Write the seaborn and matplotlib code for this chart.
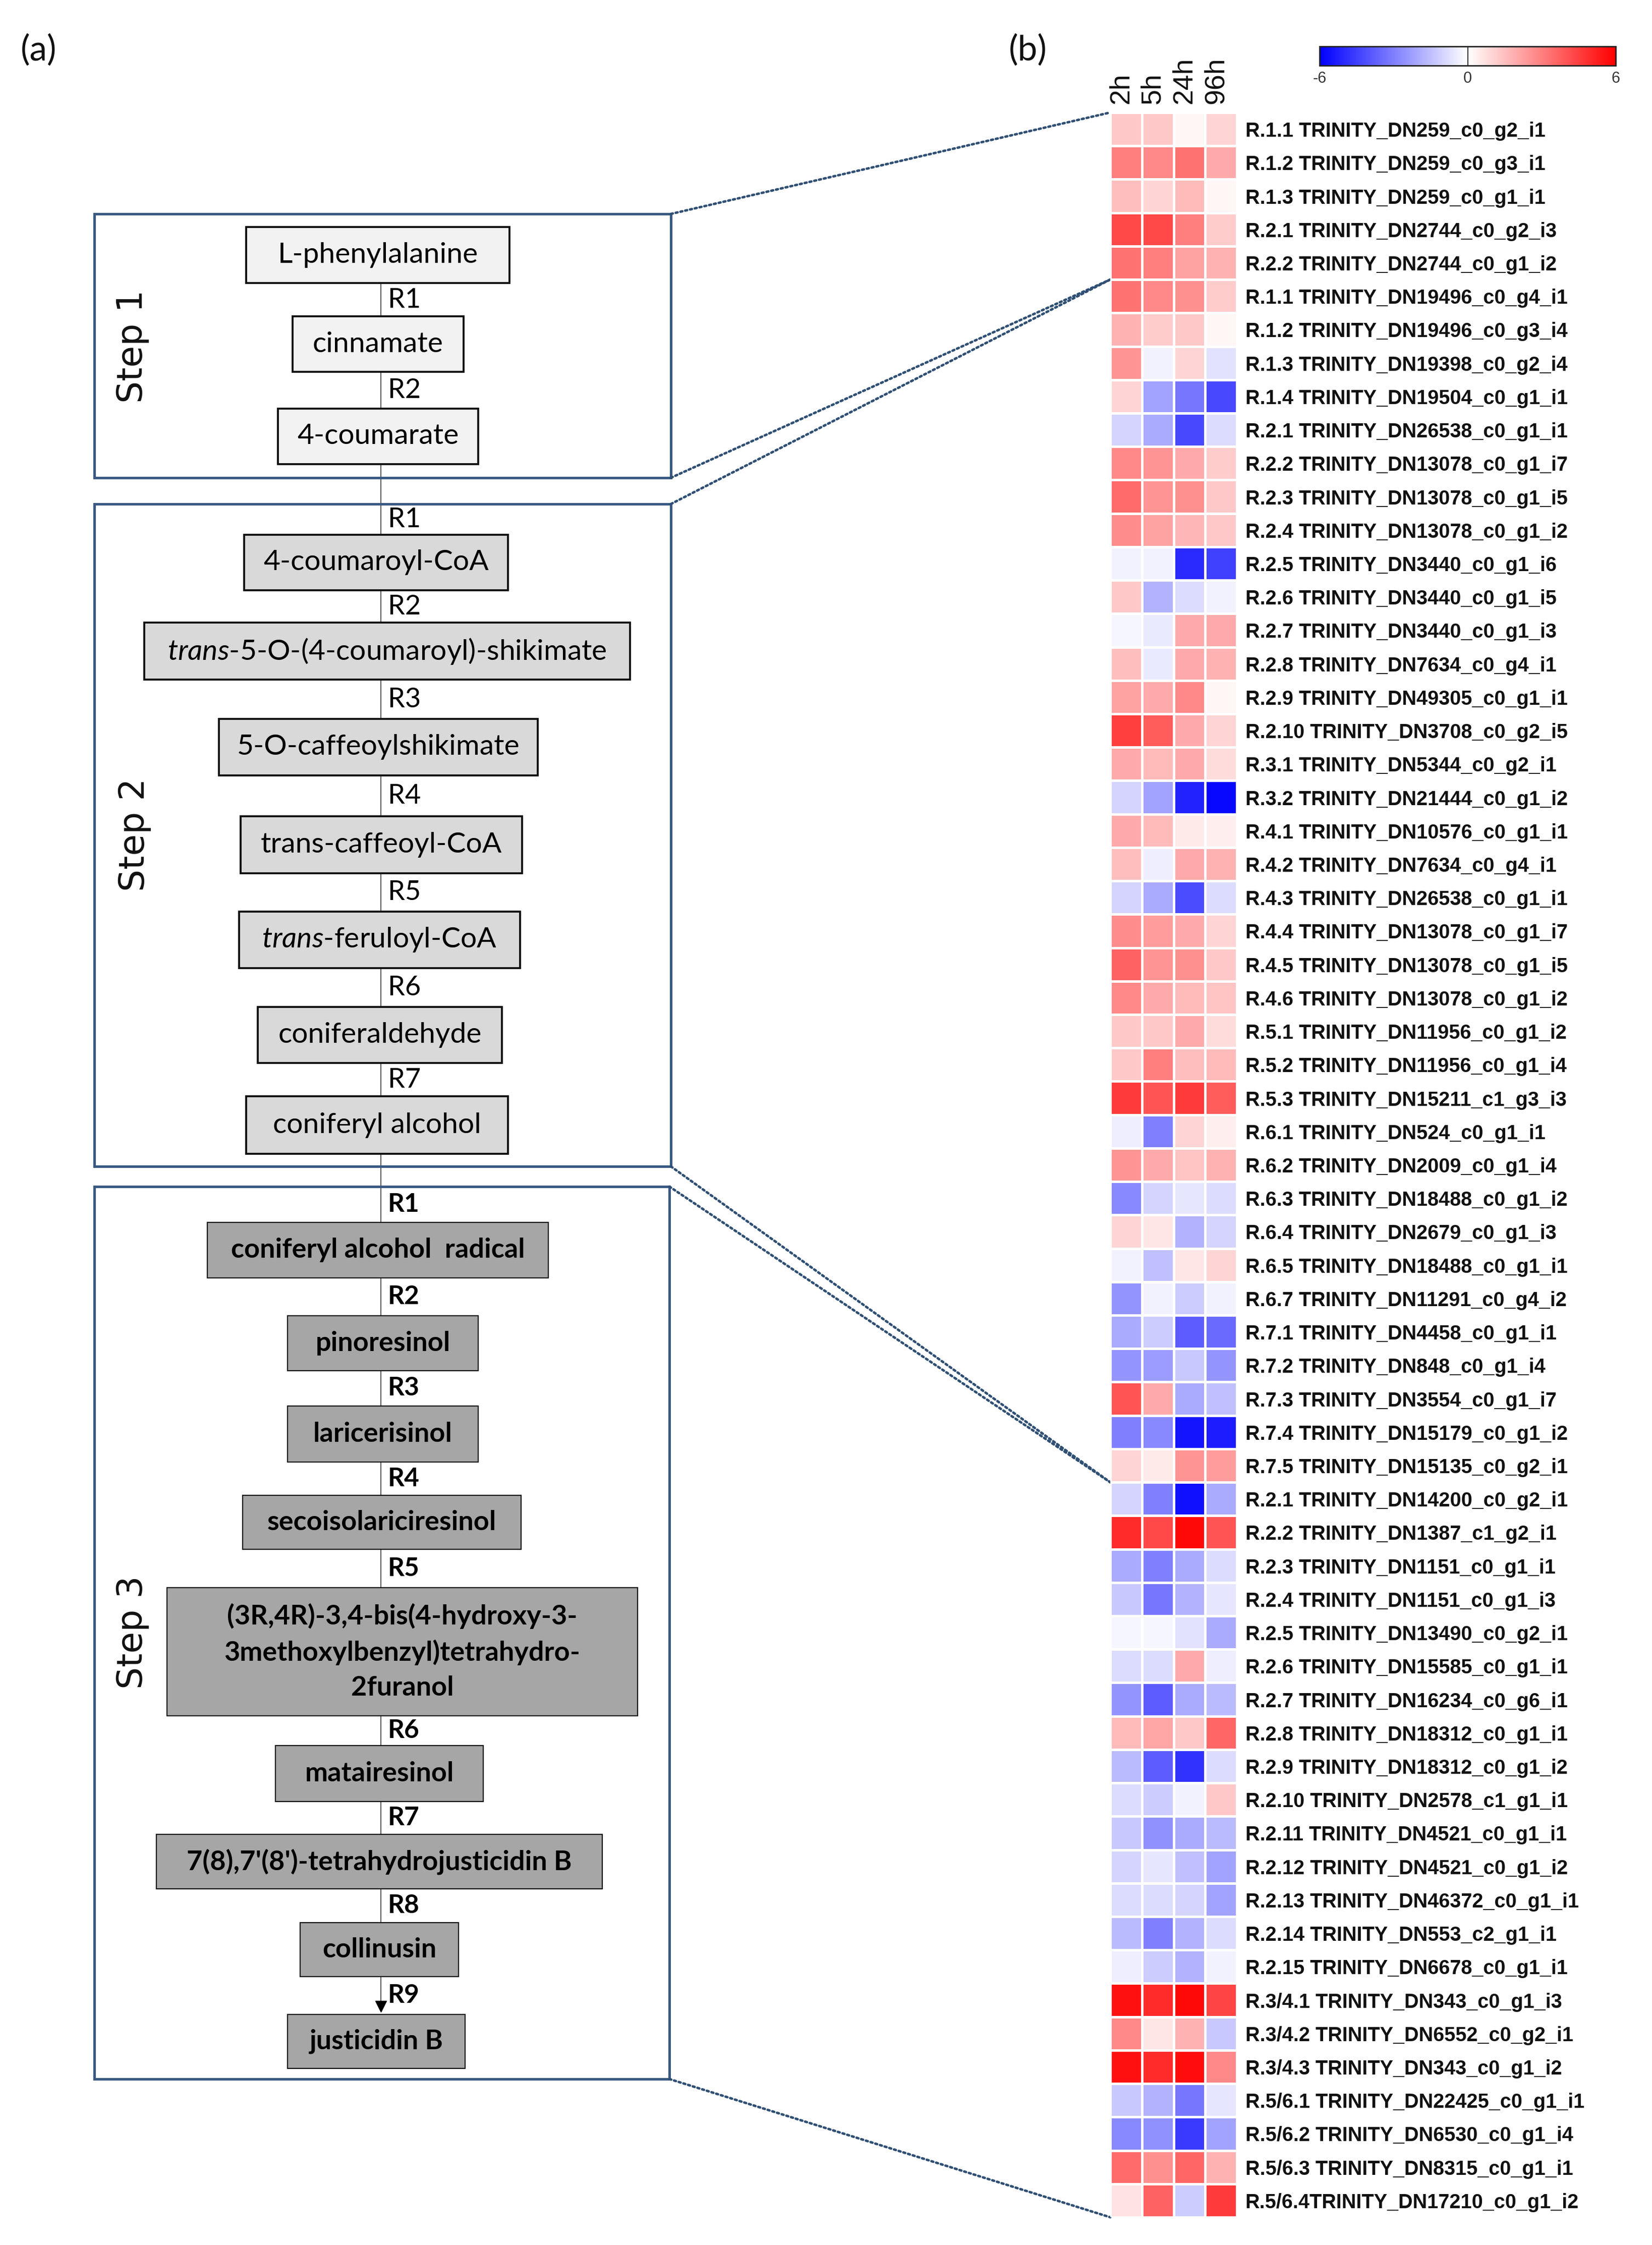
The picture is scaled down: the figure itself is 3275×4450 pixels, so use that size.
import numpy as np
import pandas as pd
import matplotlib
matplotlib.use("Agg")
import matplotlib.pyplot as plt
import seaborn as sns
from matplotlib.patches import Rectangle, ConnectionPatch

# ---------------- data ----------------
time_points = ["2h", "5h", "24h", "96h"]

row_labels = [
    "R.1.1 TRINITY_DN259_c0_g2_i1", "R.1.2 TRINITY_DN259_c0_g3_i1", "R.1.3 TRINITY_DN259_c0_g1_i1",
    "R.2.1 TRINITY_DN2744_c0_g2_i3", "R.2.2 TRINITY_DN2744_c0_g1_i2",
    "R.1.1 TRINITY_DN19496_c0_g4_i1", "R.1.2 TRINITY_DN19496_c0_g3_i4", "R.1.3 TRINITY_DN19398_c0_g2_i4",
    "R.1.4 TRINITY_DN19504_c0_g1_i1", "R.2.1 TRINITY_DN26538_c0_g1_i1", "R.2.2 TRINITY_DN13078_c0_g1_i7",
    "R.2.3 TRINITY_DN13078_c0_g1_i5", "R.2.4 TRINITY_DN13078_c0_g1_i2", "R.2.5 TRINITY_DN3440_c0_g1_i6",
    "R.2.6 TRINITY_DN3440_c0_g1_i5", "R.2.7 TRINITY_DN3440_c0_g1_i3", "R.2.8 TRINITY_DN7634_c0_g4_i1",
    "R.2.9 TRINITY_DN49305_c0_g1_i1", "R.2.10 TRINITY_DN3708_c0_g2_i5", "R.3.1 TRINITY_DN5344_c0_g2_i1",
    "R.3.2 TRINITY_DN21444_c0_g1_i2", "R.4.1 TRINITY_DN10576_c0_g1_i1", "R.4.2 TRINITY_DN7634_c0_g4_i1",
    "R.4.3 TRINITY_DN26538_c0_g1_i1", "R.4.4 TRINITY_DN13078_c0_g1_i7", "R.4.5 TRINITY_DN13078_c0_g1_i5",
    "R.4.6 TRINITY_DN13078_c0_g1_i2", "R.5.1 TRINITY_DN11956_c0_g1_i2", "R.5.2 TRINITY_DN11956_c0_g1_i4",
    "R.5.3 TRINITY_DN15211_c1_g3_i3", "R.6.1 TRINITY_DN524_c0_g1_i1", "R.6.2 TRINITY_DN2009_c0_g1_i4",
    "R.6.3 TRINITY_DN18488_c0_g1_i2", "R.6.4 TRINITY_DN2679_c0_g1_i3", "R.6.5 TRINITY_DN18488_c0_g1_i1",
    "R.6.7 TRINITY_DN11291_c0_g4_i2", "R.7.1 TRINITY_DN4458_c0_g1_i1", "R.7.2 TRINITY_DN848_c0_g1_i4",
    "R.7.3 TRINITY_DN3554_c0_g1_i7", "R.7.4 TRINITY_DN15179_c0_g1_i2", "R.7.5 TRINITY_DN15135_c0_g2_i1",
    "R.2.1 TRINITY_DN14200_c0_g2_i1", "R.2.2 TRINITY_DN1387_c1_g2_i1", "R.2.3 TRINITY_DN1151_c0_g1_i1",
    "R.2.4 TRINITY_DN1151_c0_g1_i3", "R.2.5 TRINITY_DN13490_c0_g2_i1", "R.2.6 TRINITY_DN15585_c0_g1_i1",
    "R.2.7 TRINITY_DN16234_c0_g6_i1", "R.2.8 TRINITY_DN18312_c0_g1_i1", "R.2.9 TRINITY_DN18312_c0_g1_i2",
    "R.2.10 TRINITY_DN2578_c1_g1_i1", "R.2.11 TRINITY_DN4521_c0_g1_i1", "R.2.12 TRINITY_DN4521_c0_g1_i2",
    "R.2.13 TRINITY_DN46372_c0_g1_i1", "R.2.14 TRINITY_DN553_c2_g1_i1", "R.2.15 TRINITY_DN6678_c0_g1_i1",
    "R.3/4.1 TRINITY_DN343_c0_g1_i3", "R.3/4.2 TRINITY_DN6552_c0_g2_i1", "R.3/4.3 TRINITY_DN343_c0_g1_i2",
    "R.5/6.1 TRINITY_DN22425_c0_g1_i1", "R.5/6.2 TRINITY_DN6530_c0_g1_i4", "R.5/6.3 TRINITY_DN8315_c0_g1_i1",
    "R.5/6.4TRINITY_DN17210_c0_g1_i2",
]

v_2h = [1.3, 3.0, 1.5, 4.3, 3.3, 3.3, 1.8, 2.5, 1.0, -1.0, 2.8, 3.5, 2.7, -0.3, 1.3, -0.2, 1.5, 2.2, 4.5, 2.0,
        -1.0, 2.0, 1.5, -1.0, 2.7, 3.7, 2.8, 1.3, 1.3, 4.6, -0.4, 2.5, -2.8, 1.0, -0.3, -2.5, -2.0, -2.5, 4.0, -3.0,
        1.0, -1.0, 5.0, -2.0, -1.3, -0.2, -0.8, -2.5, 1.6, -1.6, -0.8, -1.3, -1.0, -0.8, -1.6, -0.4, 5.6, 2.8, 5.6,
        -1.3, -2.8, 3.5, 0.7]
v_5h = [1.3, 2.8, 1.0, 4.3, 3.0, 2.8, 1.2, -0.3, -2.2, -2.0, 2.5, 2.5, 2.2, -0.3, -1.8, -0.5, -0.5, 2.0, 3.8, 1.6,
        -2.2, 1.6, -0.4, -2.0, 2.3, 2.5, 2.0, 1.3, 3.0, 4.0, -3.0, 2.0, -1.0, 0.6, -1.5, -0.3, -1.2, -2.3, 2.0, -2.8,
        0.5, -3.0, 4.3, -3.0, -3.2, -0.2, -0.8, -3.8, 2.1, -3.8, -1.2, -2.6, -0.6, -0.8, -3.0, -1.2, 5.0, 0.6, 5.0,
        -1.8, -2.6, 2.6, 3.7]
v_24h = [0.2, 3.3, 1.6, 3.0, 2.2, 2.6, 1.3, 1.0, -3.2, -4.3, 2.0, 2.6, 1.7, -5.0, -0.8, 2.0, 2.0, 2.8, 2.0, 2.0,
         -5.2, 0.5, 2.0, -4.2, 2.0, 2.6, 1.6, 2.0, 1.5, 4.6, 1.0, 1.4, -0.6, -1.8, 0.6, -1.2, -3.8, -1.3, -2.0, -5.5,
         2.5, -5.6, 5.8, -2.0, -1.8, -0.7, 2.0, -2.0, 1.3, -4.8, -0.3, -2.0, -1.5, -1.0, -1.8, -1.8, 5.8, 1.8, 5.7,
         -3.2, -4.6, 3.6, -1.2]
v_96h = [1.0, 2.0, 0.2, 1.2, 1.8, 1.2, 0.2, -0.7, -4.3, -0.8, 1.2, 1.3, 1.3, -4.5, -0.3, 2.0, 1.8, 0.2, 1.0, 0.8,
         -5.8, 0.4, 1.8, -0.8, 1.0, 1.3, 1.4, 0.8, 1.6, 3.8, 0.4, 1.8, -0.8, -1.0, 1.0, -0.3, -3.5, -2.5, -1.5, -5.3,
         2.3, -2.0, 4.0, -0.8, -0.6, -2.0, -0.4, -1.6, 3.6, -0.8, 1.3, -1.6, -2.2, -2.2, -0.8, -0.3, 4.4, -1.3, 2.8,
         -0.6, -2.2, 1.8, 4.6]

cbar_ticks = [-6, 0, 6]

# pathway panel content
step_names = ["Step 1", "Step 2", "Step 3"]
step1_compounds = ["L-phenylalanine", "cinnamate", "4-coumarate"]
step2_compounds = ["4-coumaroyl-CoA", r"$\mathit{trans}$-5-O-(4-coumaroyl)-shikimate", "5-O-caffeoylshikimate",
                   "trans-caffeoyl-CoA", r"$\mathit{trans}$-feruloyl-CoA", "coniferaldehyde", "coniferyl alcohol"]
step3_compounds = ["coniferyl alcohol  radical", "pinoresinol", "laricerisinol", "secoisolariciresinol",
                   "(3R,4R)-3,4-bis(4-hydroxy-3-\n3methoxylbenzyl)tetrahydro-\n2furanol", "matairesinol",
                   "7(8),7'(8')-tetrahydrojusticidin B", "collinusin", "justicidin B"]

# ---------------- layout (pixel coordinates of the 3275x4450 canvas) ----------------
W, H = 3275, 4450
step_frames = [(187, 1330, 424, 947), (187, 1330, 999, 2312), (187, 1327, 2352, 4121)]
step_label_pos = [(263, 687), (267, 1655), (263, 3236)]
step1_boxes = [(488, 1010, 450, 561), (580, 919, 627, 737), (551, 948, 810, 920)]
step2_boxes = [(484, 1007, 1060, 1170), (286, 1249, 1234, 1347), (434, 1066, 1425, 1537),
               (477, 1035, 1618, 1731), (474, 1031, 1807, 1919), (511, 995, 1996, 2107),
               (488, 1007, 2173, 2287)]
step3_boxes = [(411, 1087, 2423, 2533), (570, 948, 2608, 2717), (570, 948, 2787, 2898),
               (481, 1033, 2964, 3071), (331, 1264, 3147, 3401), (546, 958, 3460, 3571),
               (310, 1194, 3636, 3744), (595, 909, 3811, 3918), (570, 922, 3993, 4100)]
axis_x = 755
frame_color = "#3A5A82"
link_color = "#2F4F73"
# heatmap row boundaries linked to each step frame (top, bottom)
step_rows = [(0, 5), (5, 41), (41, 63)]

# ---------------- figure ----------------
sns.set_theme(style="white")
plt.rcParams["font.family"] = ["Liberation Sans", "DejaVu Sans"]
plt.rcParams["mathtext.fontset"] = "custom"
plt.rcParams["mathtext.it"] = "Lato:italic"
plt.rcParams["mathtext.rm"] = "Lato"

fig = plt.figure(figsize=(W / 100, H / 100), dpi=100)
fig.patch.set_facecolor("white")

# left overlay axes in pixel coordinates
axL = fig.add_axes([0, 0, 1, 1], zorder=0)
axL.set_xlim(0, W)
axL.set_ylim(H, 0)
axL.axis("off")

# heatmap
df = pd.DataFrame({"2h": v_2h, "5h": v_5h, "24h": v_24h, "96h": v_96h}, index=row_labels)[time_points]
hm_left, hm_right, hm_top, hm_bot = 2201, 2452, 223, 4395
axH = fig.add_axes([hm_left / W, 1 - hm_bot / H, (hm_right - hm_left) / W, (hm_bot - hm_top) / H], zorder=2)
cb_left, cb_right, cb_top, cb_bot = 2616, 3203, 92, 130
cax = fig.add_axes([cb_left / W, 1 - cb_bot / H, (cb_right - cb_left) / W, (cb_bot - cb_top) / H], zorder=2)

sns.heatmap(df, ax=axH, cmap="bwr", vmin=-6, vmax=6, linewidths=2.2, linecolor="white",
            cbar_ax=cax, cbar_kws={"orientation": "horizontal", "ticks": cbar_ticks})
axH.yaxis.tick_right()
axH.set_yticks(np.arange(len(row_labels)) + 0.5)
axH.set_yticklabels(row_labels, rotation=0, fontsize=28.5, fontweight="bold", family="Liberation Sans",
                    color="#111111")
axH.xaxis.tick_top()
axH.set_xticks(np.arange(len(time_points)) + 0.35)
axH.set_xticklabels(time_points, rotation=90, fontsize=40, family="Liberation Sans", color="#111111")
axH.tick_params(axis="y", length=0, pad=12)
axH.tick_params(axis="x", length=0, pad=12)
axH.set_xlabel("")
axH.set_ylabel("")

cax.tick_params(axis="x", length=0, pad=8, labelsize=22, colors="#333333")
cax.set_xticklabels(["-6", "0", "6"])
cax.axvline(0, color="#333333", lw=1.5)
cb = axH.collections[0].colorbar
cb.outline.set_edgecolor("#222222")
cb.outline.set_linewidth(2.0)

# panel letters
axL.text(77, 99, "(a)", fontsize=50, family="Lato", ha="center", va="center", color="#111111")
axL.text(2038, 99, "(b)", fontsize=50, family="Lato", ha="center", va="center", color="#111111")

# central pathway line
axL.plot([axis_x, axis_x], [step1_boxes[0][3], step3_boxes[-1][2] - 14], color="#444444", lw=1.3, zorder=1)
axL.plot([axis_x], [step3_boxes[-1][2] - 16], marker="v", markersize=16, color="black", zorder=3)

# step frames
for (x0, x1, y0, y1), name, (lx, ly) in zip(step_frames, step_names, step_label_pos):
    axL.add_patch(Rectangle((x0, y0), x1 - x0, y1 - y0, fill=False, edgecolor=frame_color, lw=3.6, zorder=2))
    axL.text(lx, ly, name, rotation=90, fontsize=50, family="DejaVu Sans", ha="center", va="center",
             color="#111111")


def draw_step(boxes, names, frame_top, face, elw, fsize, weight, fam, spacing=1.2):
    prev = frame_top
    for i, ((x0, x1, y0, y1), nm) in enumerate(zip(boxes, names)):
        axL.add_patch(Rectangle((x0, y0), x1 - x0, y1 - y0, facecolor=face, edgecolor="#111111", lw=elw, zorder=4))
        axL.text((x0 + x1) / 2, (y0 + y1) / 2, nm, ha="center", va="center", fontsize=fsize, fontweight=weight,
                 family=fam, zorder=5, color="#000000", linespacing=spacing)
        if prev is not None:
            axL.text(axis_x + 14, (prev + y0) / 2, "R%d" % i if frame_top is None else "R%d" % (i + 1),
                     ha="left", va="center", fontsize=fsize * 0.95, fontweight=weight, family=fam, zorder=5,
                     color="#000000")
        prev = y1


draw_step(step1_boxes, step1_compounds, None, "#F2F2F2", 2.8, 41, "normal", "Lato")
draw_step(step2_boxes, step2_compounds, step_frames[1][2], "#D9D9D9", 2.8, 41, "normal", "Lato")
draw_step(step3_boxes, step3_compounds, step_frames[2][2], "#A6A6A6", 1.6, 39, "bold", "Lato", spacing=1.5)

# dotted links from step frames to heatmap rows
for (x0, x1, y0, y1), (r0, r1) in zip(step_frames, step_rows):
    for yy, rr in ((y0, r0), (y1, r1)):
        con = ConnectionPatch(xyA=(x1, yy), coordsA=axL.transData, xyB=(0, rr), coordsB=axH.transData,
                              color=link_color, lw=3.5, linestyle=(0, (0.8, 1.2)), zorder=1)
        fig.add_artist(con)

fig.savefig("out.png", dpi=100, facecolor="white")
